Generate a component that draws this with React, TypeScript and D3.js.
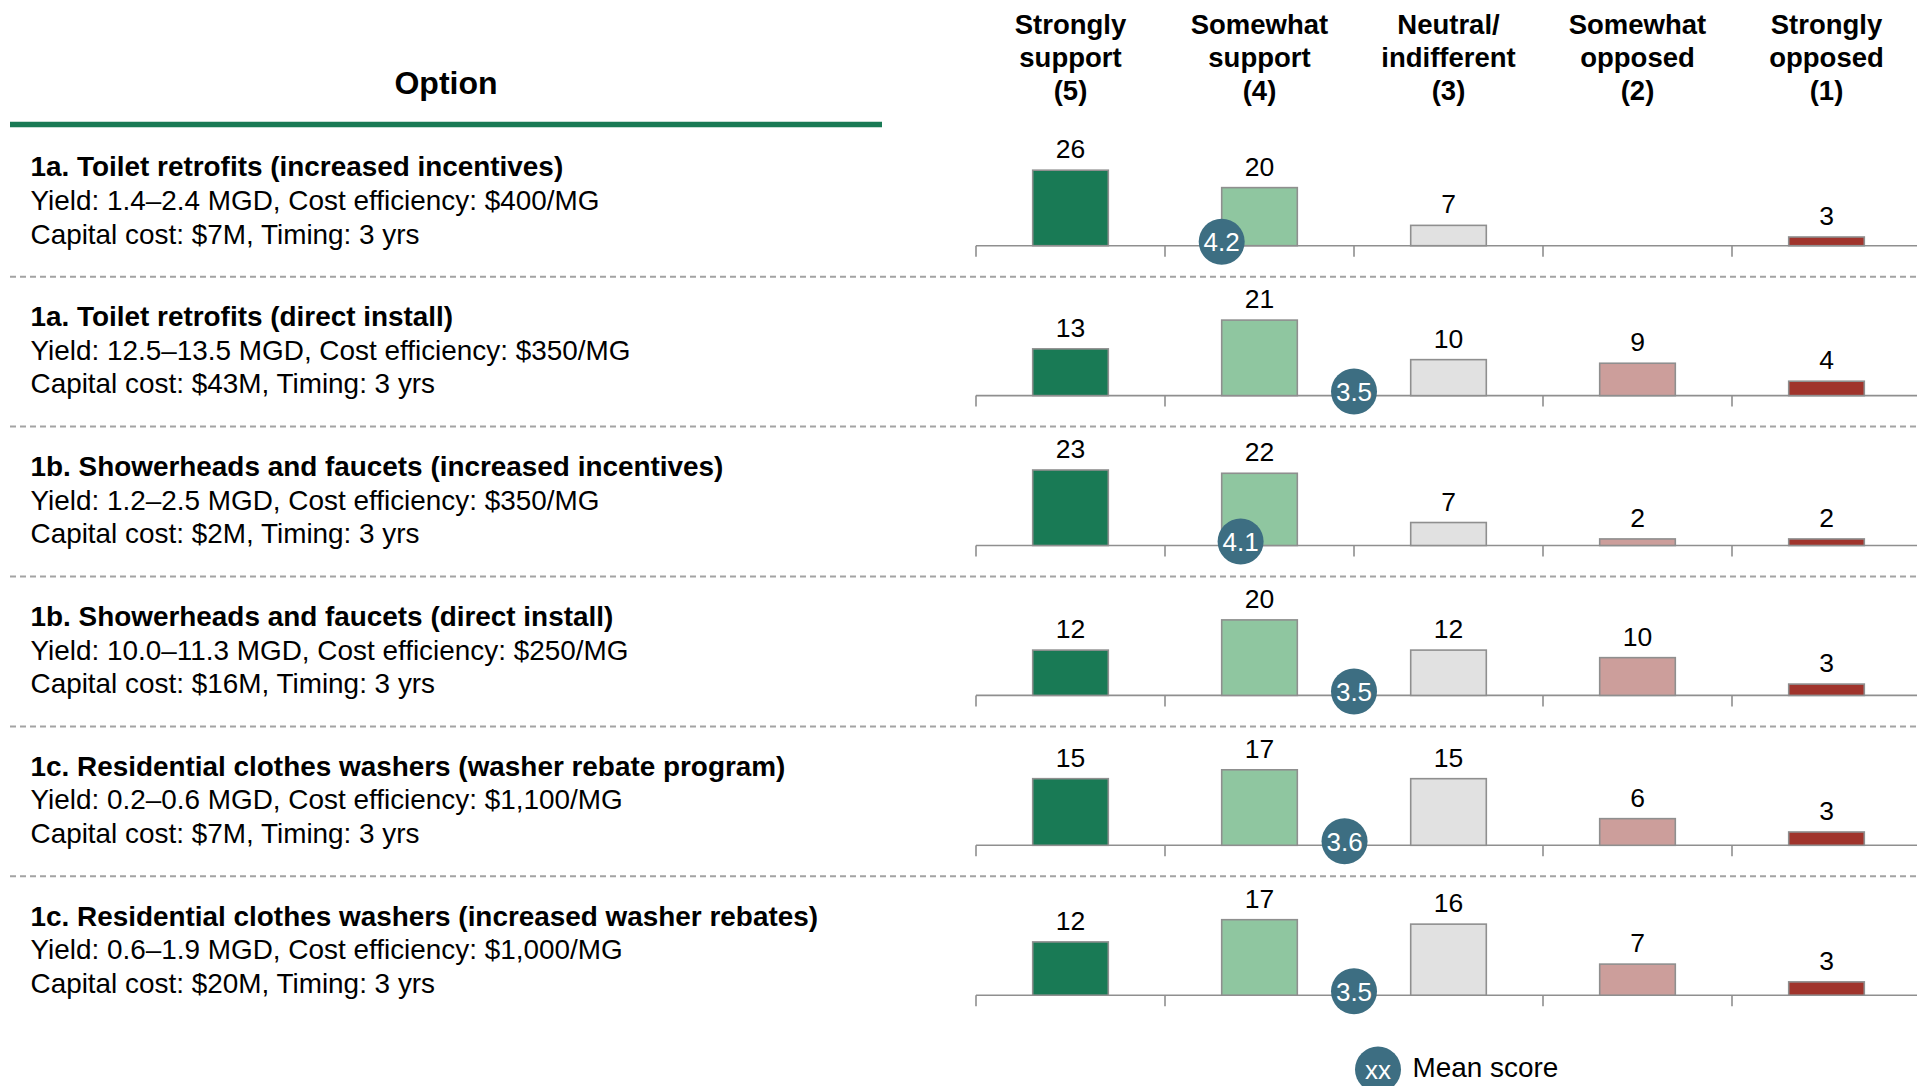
import React from "react";
import * as d3 from "d3";

// ---- data ----
const categoryScores = [5, 4, 3, 2, 1];
const categoryLines = [
  ["Strongly", "support", "(5)"],
  ["Somewhat", "support", "(4)"],
  ["Neutral/", "indifferent", "(3)"],
  ["Somewhat", "opposed", "(2)"],
  ["Strongly", "opposed", "(1)"],
];
const optionTitles = [
  "1a. Toilet retrofits (increased incentives)",
  "1a. Toilet retrofits (direct install)",
  "1b. Showerheads and faucets (increased incentives)",
  "1b. Showerheads and faucets (direct install)",
  "1c. Residential clothes washers (washer rebate program)",
  "1c. Residential clothes washers (increased washer rebates)",
];
const optionYields = [
  "Yield: 1.4–2.4 MGD, Cost efficiency: $400/MG",
  "Yield: 12.5–13.5 MGD, Cost efficiency: $350/MG",
  "Yield: 1.2–2.5 MGD, Cost efficiency: $350/MG",
  "Yield: 10.0–11.3 MGD, Cost efficiency: $250/MG",
  "Yield: 0.2–0.6 MGD, Cost efficiency: $1,100/MG",
  "Yield: 0.6–1.9 MGD, Cost efficiency: $1,000/MG",
];
const optionCosts = [
  "Capital cost: $7M, Timing: 3 yrs",
  "Capital cost: $43M, Timing: 3 yrs",
  "Capital cost: $2M, Timing: 3 yrs",
  "Capital cost: $16M, Timing: 3 yrs",
  "Capital cost: $7M, Timing: 3 yrs",
  "Capital cost: $20M, Timing: 3 yrs",
];
const stronglySupport = [26, 13, 23, 12, 15, 12];
const somewhatSupport = [20, 21, 22, 20, 17, 17];
const neutral = [7, 10, 7, 12, 15, 16];
const somewhatOpposed = [0, 9, 2, 10, 6, 7];
const stronglyOpposed = [3, 4, 2, 3, 3, 3];
const meanLabels = ["4.2", "3.5", "4.1", "3.5", "3.6", "3.5"];
const meanPositions = [4.2, 3.5, 4.1, 3.5, 3.55, 3.5];

const seriesByCategory = [stronglySupport, somewhatSupport, neutral, somewhatOpposed, stronglyOpposed];
const barColors = ["#197a55", "#8fc6a0", "#e1e1e1", "#cc9e9b", "#a0342c"];

// ---- layout ----
const W = 1917;
const H = 1086;
const FONT = "'Liberation Sans', Arial, Helvetica, sans-serif";
const circleColor = "#3d6e82";
const axisColor = "#8f8f8f";

export default function App() {
  const x = d3
    .scaleBand<number>()
    .domain(categoryScores)
    .range([976, 1921])
    .paddingInner(0.6)
    .paddingOuter(0.3);
  const step = x.step();
  const bw = x.bandwidth();
  const center = (s: number) => (x(s) as number) + bw / 2;
  const meanX = d3.scaleLinear().domain([5, 1]).range([center(5), center(1)]);
  const tickXs = categoryScores.map((s) => (x(s) as number) - step * 0.3).concat([(x(1) as number) - step * 0.3 + step]);

  const rowStep = 149.9;
  const baseline0 = 245.7;
  const barMaxH = 75.5;

  return (
    <svg
      width={W}
      height={H}
      viewBox={`0 0 ${W} ${H}`}
      style={{ position: "absolute", left: 0, top: 0, background: "#fff" }}
      fontFamily={FONT}
    >
      {/* header */}
      <text x={446} y={94} textAnchor="middle" fontWeight="bold" fontSize={32} fill="#000">
        Option
      </text>
      <line x1={10} x2={882} y1={124.5} y2={124.5} stroke="#197a55" strokeWidth={5.5} />
      {categoryScores.map((s, ci) => (
        <g key={"h" + s}>
          {categoryLines[ci].map((t, li) => (
            <text
              key={li}
              x={center(s)}
              y={34 + li * 33.2}
              textAnchor="middle"
              fontWeight="bold"
              fontSize={27.5}
              fill="#000"
            >
              {t}
            </text>
          ))}
        </g>
      ))}

      {optionTitles.map((title, ri) => {
        const base = baseline0 + ri * rowStep;
        const vals = seriesByCategory.map((arr) => arr[ri]);
        const maxV = d3.max(vals) as number;
        const y = d3.scaleLinear().domain([0, maxV]).range([0, barMaxH]);
        const tb = 176 + ri * rowStep;
        return (
          <g key={"r" + ri}>
            <text x={30.5} y={tb} fontWeight="bold" fontSize={27.9} fill="#000">
              {title}
            </text>
            <text x={30.5} y={tb + 33.8} fontSize={27.9} fill="#000">
              {optionYields[ri]}
            </text>
            <text x={30.5} y={tb + 67.5} fontSize={27.9} fill="#000">
              {optionCosts[ri]}
            </text>
            {ri < optionTitles.length - 1 && (
              <line
                x1={10}
                x2={W}
                y1={base + 31}
                y2={base + 31}
                stroke="#a3a3a3"
                strokeWidth={2}
                strokeDasharray="6 4"
              />
            )}
            {/* axis */}
            <line x1={tickXs[0]} x2={1921} y1={base} y2={base} stroke={axisColor} strokeWidth={1.6} />
            {tickXs.map((tx, k) => (
              <line key={k} x1={tx} x2={tx} y1={base} y2={base + 11} stroke={axisColor} strokeWidth={1.6} />
            ))}
            {/* bars */}
            {categoryScores.map((s, ci) => {
              const v = vals[ci];
              if (!v) return null;
              const h = y(v);
              return (
                <g key={"b" + s}>
                  <rect
                    x={x(s)}
                    y={base - h}
                    width={bw}
                    height={h}
                    fill={barColors[ci]}
                    stroke={axisColor}
                    strokeWidth={1.6}
                  />
                  <text
                    x={center(s)}
                    y={base - h - 12}
                    textAnchor="middle"
                    fontSize={26.5}
                    fill="#000"
                  >
                    {v}
                  </text>
                </g>
              );
            })}
            {/* mean marker */}
            <circle cx={meanX(meanPositions[ri])} cy={base - 4} r={23} fill={circleColor} />
            <text
              x={meanX(meanPositions[ri])}
              y={base - 4 + 9.5}
              textAnchor="middle"
              fontSize={26}
              fill="#fff"
            >
              {meanLabels[ri]}
            </text>
          </g>
        );
      })}

      {/* legend */}
      <circle cx={1378} cy={1069.5} r={23} fill={circleColor} />
      <text x={1378} y={1078.5} textAnchor="middle" fontSize={26} fill="#fff">
        xx
      </text>
      <text x={1412.5} y={1077} fontSize={27.9} fill="#000">
        Mean score
      </text>
    </svg>
  );
}
